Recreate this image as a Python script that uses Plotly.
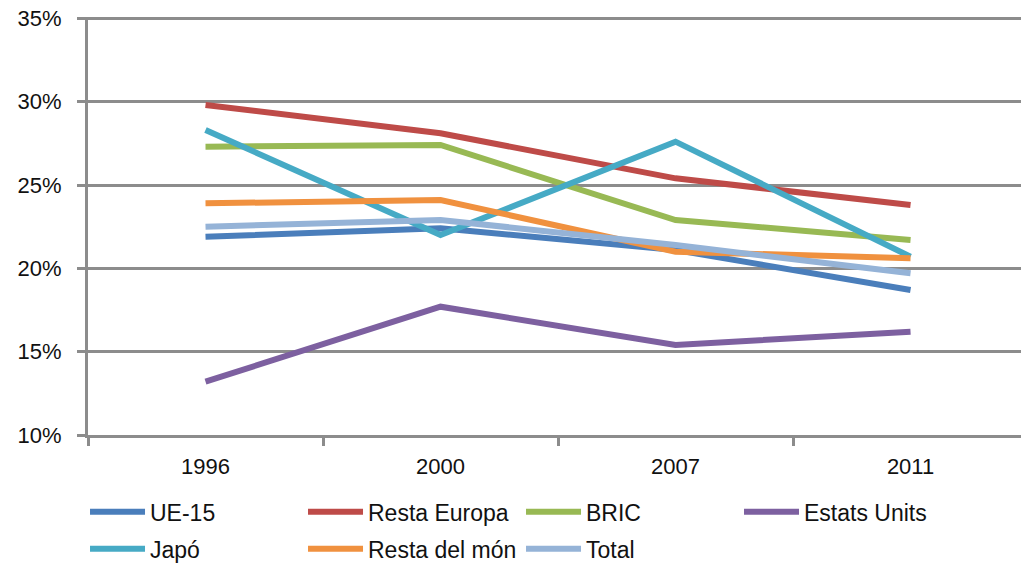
import plotly.graph_objects as go

years = ["1996", "2000", "2007", "2011"]
series_names = ["UE-15", "Resta Europa", "BRIC", "Estats Units", "Japó", "Resta del món", "Total"]
ue15 = [21.9, 22.4, 21.1, 18.7]
resta_europa = [29.8, 28.1, 25.4, 23.8]
bric = [27.3, 27.4, 22.9, 21.7]
estats_units = [13.2, 17.7, 15.4, 16.2]
japo = [28.3, 22.0, 27.6, 20.7]
resta_mon = [23.9, 24.1, 21.0, 20.6]
total = [22.5, 22.9, 21.4, 19.7]
y_ticks = [10, 15, 20, 25, 30, 35]
colors = ["#4a7ebb", "#be4b48", "#98b954", "#7d60a0", "#46aac5", "#f0913f", "#95b3d7"]
legend_rows = ["legend", "legend", "legend", "legend", "legend2", "legend2", "legend2"]

values = [ue15, resta_europa, bric, estats_units, japo, resta_mon, total]

fig = go.Figure()
for name, vals, col, lg in zip(series_names, values, colors, legend_rows):
    fig.add_trace(go.Scatter(
        x=years, y=vals, name=name, mode="lines",
        line=dict(color=col, width=6), legend=lg,
    ))

tick_font = dict(family="Liberation Sans, Arial, sans-serif", size=22, color="#111")
leg_font = dict(family="Liberation Sans, Arial, sans-serif", size=23, color="#111")
leg_common = dict(
    orientation="h", xanchor="left", yanchor="top",
    entrywidth=148, entrywidthmode="pixels", itemwidth=55,
    font=leg_font, traceorder="normal", bgcolor="rgba(0,0,0,0)",
)
fig.update_layout(
    width=1021, height=567,
    margin=dict(l=88, r=0, t=17, b=132, autoexpand=False),
    paper_bgcolor="white", plot_bgcolor="white",
    font=tick_font,
    showlegend=True,
    legend=dict(x=-0.0032, y=-0.132, **leg_common),
    legend2=dict(x=-0.0032, y=-0.2206, **leg_common),
)
fig.update_xaxes(
    type="category", range=[-0.5, 3.47], automargin=False,
    showline=True, linecolor="#8c8c8c", linewidth=3,
    ticks="outside", tickson="boundaries", ticklen=8, tickwidth=3, tickcolor="#8c8c8c",
    showgrid=False, ticklabelstandoff=10,
)
fig.update_yaxes(
    range=[10, 35.08], tickmode="array", tickvals=y_ticks,
    ticktext=[f"{v}%" for v in y_ticks], automargin=False,
    ticklabeloverflow="allow",
    showline=True, linecolor="#8c8c8c", linewidth=3,
    ticks="outside", ticklen=8, tickwidth=3, tickcolor="#8c8c8c",
    showgrid=True, gridcolor="#8c8c8c", gridwidth=3,
    zeroline=False, ticklabelstandoff=11,
)
fig.write_html(
    "out.html",
    config={"displayModeBar": False},
    post_script="document.body.style.margin='0';",
)
